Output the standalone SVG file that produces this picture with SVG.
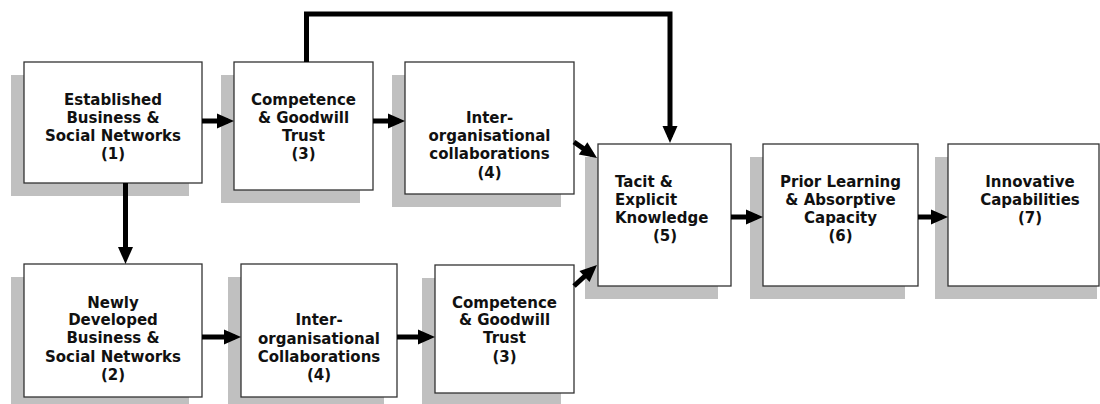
<svg xmlns="http://www.w3.org/2000/svg" width="1100" height="404" viewBox="0 0 1100 404">
  <style>
    .shadow { fill: #c0c0c0; }
    .box { fill: #ffffff; stroke: #333333; stroke-width: 1.3; }
    .lbl { font-family: "DejaVu Sans", Verdana, sans-serif; font-weight: bold; font-size: 15px; fill: #111111; text-anchor: middle; }
    .lbl-left { text-anchor: start; }
    .conn { fill: none; stroke: #000000; stroke-width: 5; marker-end: url(#head); }
  </style>
  <defs>
    <!-- arrowhead: tip sits 6px beyond the line end so the blunt stroke end stays hidden -->
    <marker id="head" viewBox="0 0 17 15" markerUnits="userSpaceOnUse" markerWidth="17" markerHeight="15" refX="11" refY="7.5" orient="auto" overflow="visible">
      <path d="M0,0 L17,7.5 L0,15 Z" fill="#000000"/>
    </marker>
  </defs>
  <rect width="1100" height="404" fill="#ffffff"/>

  <!-- (1) established networks -->
  <g id="node-established">
    <rect class="shadow" x="11" y="75" width="178" height="121"/>
    <rect class="box" x="24" y="62" width="178" height="121"/>
    <text class="lbl" x="113" y="105">Established</text>
    <text class="lbl" x="113" y="123">Business &amp;</text>
    <text class="lbl" x="113" y="140.5">Social Networks</text>
    <text class="lbl" x="113" y="159">(1)</text>
  </g>

  <!-- (3) competence & goodwill trust, upper -->
  <g id="node-trust-upper">
    <rect class="shadow" x="221" y="75" width="139" height="128"/>
    <rect class="box" x="234" y="62" width="139" height="128"/>
    <text class="lbl" x="303.5" y="105">Competence</text>
    <text class="lbl" x="303.5" y="123">&amp; Goodwill</text>
    <text class="lbl" x="303.5" y="140.5">Trust</text>
    <text class="lbl" x="303.5" y="159">(3)</text>
  </g>

  <!-- (4) inter-organisational collaborations, upper -->
  <g id="node-collab-upper">
    <rect class="shadow" x="392" y="75" width="169" height="132"/>
    <rect class="box" x="405" y="62" width="169" height="132"/>
    <text class="lbl" x="489.5" y="122.5">Inter-</text>
    <text class="lbl" x="489.5" y="141">organisational</text>
    <text class="lbl" x="489.5" y="159">collaborations</text>
    <text class="lbl" x="489.5" y="177.5">(4)</text>
  </g>

  <!-- (5) tacit & explicit knowledge -->
  <g id="node-knowledge">
    <rect class="shadow" x="585" y="157" width="133" height="142"/>
    <rect class="box" x="598" y="144" width="133" height="142"/>
    <text class="lbl lbl-left" x="615" y="187">Tacit &amp;</text>
    <text class="lbl lbl-left" x="615" y="204.5">Explicit</text>
    <text class="lbl lbl-left" x="615" y="223">Knowledge</text>
    <text class="lbl" x="665" y="241">(5)</text>
  </g>

  <!-- (6) prior learning & absorptive capacity -->
  <g id="node-absorptive">
    <rect class="shadow" x="750" y="157" width="155" height="142"/>
    <rect class="box" x="763" y="144" width="155" height="142"/>
    <text class="lbl" x="840.5" y="187">Prior Learning</text>
    <text class="lbl" x="840.5" y="204.5">&amp; Absorptive</text>
    <text class="lbl" x="840.5" y="223">Capacity</text>
    <text class="lbl" x="840.5" y="241">(6)</text>
  </g>

  <!-- (7) innovative capabilities -->
  <g id="node-innovative">
    <rect class="shadow" x="935" y="157" width="162" height="142"/>
    <rect class="box" x="948" y="144" width="151" height="142"/>
    <text class="lbl" x="1030" y="187">Innovative</text>
    <text class="lbl" x="1030" y="205">Capabilities</text>
    <text class="lbl" x="1030" y="223">(7)</text>
  </g>

  <!-- (2) newly developed networks -->
  <g id="node-newly">
    <rect class="shadow" x="11" y="277" width="178" height="133"/>
    <rect class="box" x="24" y="264" width="178" height="133"/>
    <text class="lbl" x="113" y="307.5">Newly</text>
    <text class="lbl" x="113" y="325">Developed</text>
    <text class="lbl" x="113" y="343">Business &amp;</text>
    <text class="lbl" x="113" y="362">Social Networks</text>
    <text class="lbl" x="113" y="380">(2)</text>
  </g>

  <!-- (4) inter-organisational collaborations, lower -->
  <g id="node-collab-lower">
    <rect class="shadow" x="228" y="277" width="156" height="133"/>
    <rect class="box" x="241" y="264" width="156" height="133"/>
    <text class="lbl" x="319" y="325">Inter-</text>
    <text class="lbl" x="319" y="343.5">organisational</text>
    <text class="lbl" x="319" y="362">Collaborations</text>
    <text class="lbl" x="319" y="380">(4)</text>
  </g>

  <!-- (3) competence & goodwill trust, lower -->
  <g id="node-trust-lower">
    <rect class="shadow" x="422" y="278" width="139" height="128"/>
    <rect class="box" x="435" y="265" width="139" height="128"/>
    <text class="lbl" x="504.5" y="307.5">Competence</text>
    <text class="lbl" x="504.5" y="325">&amp; Goodwill</text>
    <text class="lbl" x="504.5" y="343">Trust</text>
    <text class="lbl" x="504.5" y="361.5">(3)</text>
  </g>

  <!-- connectors, drawn last so the arrowheads sit over the shadows -->
  <g id="connectors">
    <polyline class="conn" points="306.5,62 306.5,14 670,14 670,137"/>
    <line class="conn" x1="202" y1="121" x2="228" y2="121"/>
    <line class="conn" x1="373" y1="121" x2="399" y2="121"/>
    <line class="conn" x1="574" y1="142" x2="592.1" y2="154.6"/>
    <line class="conn" x1="574" y1="286" x2="592.6" y2="269"/>
    <line class="conn" x1="731" y1="217" x2="757" y2="217"/>
    <line class="conn" x1="918" y1="217" x2="942" y2="217"/>
    <line class="conn" x1="125.5" y1="183" x2="125.5" y2="258"/>
    <line class="conn" x1="202" y1="337" x2="235" y2="337"/>
    <line class="conn" x1="397" y1="337" x2="429" y2="337"/>
  </g>
</svg>
